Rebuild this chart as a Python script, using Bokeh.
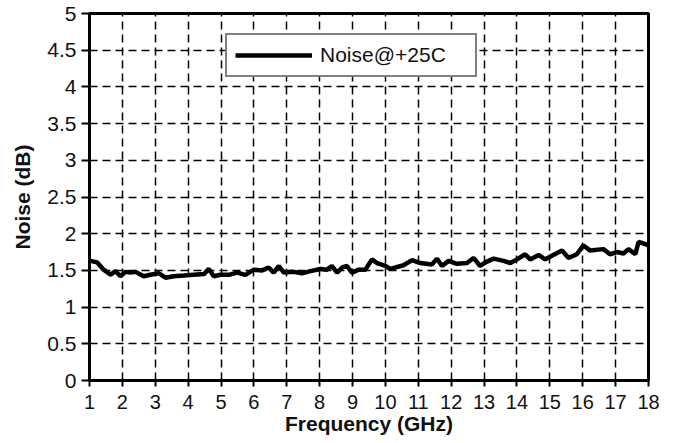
from bokeh.plotting import figure
from bokeh.models import Range1d, Legend, LegendItem, FixedTicker
from bokeh.embed import file_html
from bokeh.resources import INLINE

freq_ghz = [1.0, 1.03, 1.23, 1.43, 1.64, 1.79, 1.94, 2.09, 2.25, 2.40, 2.65, 2.85, 3.11, 3.31,
            3.56, 3.87, 4.17, 4.48, 4.63, 4.78, 4.98, 5.24, 5.49, 5.74, 6.00, 6.25, 6.45,
            6.60, 6.76, 6.91, 7.21, 7.46, 7.72, 8.02, 8.22, 8.37, 8.53, 8.68, 8.83, 8.98,
            9.19, 9.39, 9.59, 9.74, 10.0, 10.15, 10.55, 10.81, 11.06, 11.41, 11.57, 11.72,
            11.92, 12.17, 12.48, 12.68, 12.88, 13.04, 13.29, 13.59, 13.80, 14.0, 14.25,
            14.40, 14.66, 14.86, 15.06, 15.37, 15.57, 15.82, 16.02, 16.23, 16.63, 16.83,
            17.04, 17.24, 17.39, 17.60, 17.70, 17.95, 18.0]
noise_db = [1.63, 1.63, 1.61, 1.51, 1.44, 1.49, 1.42, 1.48, 1.47, 1.48, 1.42, 1.44, 1.46, 1.40,
            1.42, 1.43, 1.44, 1.45, 1.52, 1.42, 1.44, 1.44, 1.47, 1.44, 1.51, 1.50, 1.54,
            1.47, 1.56, 1.47, 1.48, 1.46, 1.49, 1.52, 1.51, 1.56, 1.47, 1.54, 1.56, 1.47,
            1.51, 1.51, 1.65, 1.60, 1.56, 1.52, 1.57, 1.64, 1.60, 1.58, 1.66, 1.56,
            1.63, 1.59, 1.60, 1.67, 1.56, 1.61, 1.66, 1.63, 1.60, 1.65, 1.72,
            1.65, 1.71, 1.65, 1.70, 1.77, 1.67, 1.72, 1.84, 1.77, 1.79, 1.72,
            1.75, 1.73, 1.79, 1.72, 1.89, 1.85, 1.84]

x_ticks = list(range(1, 19))
y_ticks = [0, 0.5, 1, 1.5, 2, 2.5, 3, 3.5, 4, 4.5, 5]
series_label = "Noise@+25C"
x_title = "Frequency (GHz)"
y_title = "Noise (dB)"

FONT = "Liberation Sans"

p = figure(width=676, height=443, output_backend="svg", toolbar_location=None,
           x_range=Range1d(1, 18), y_range=Range1d(0, 5),
           min_border_left=89, min_border_right=28, min_border_top=13, min_border_bottom=63)
p.background_fill_color = "white"
p.border_fill_color = "white"
p.outline_line_color = "black"
p.outline_line_width = 3

r = p.line(freq_ghz, noise_db, line_color="black", line_width=4.5)

p.xaxis.ticker = FixedTicker(ticks=x_ticks)
p.yaxis.ticker = FixedTicker(ticks=y_ticks)
p.yaxis.major_label_overrides = {0: "0", 1: "1", 2: "2", 3: "3", 4: "4", 5: "5"}

for ax in (p.xaxis[0], p.yaxis[0]):
    ax.axis_line_color = "black"
    ax.axis_line_width = 3
    ax.major_tick_line_color = "black"
    ax.major_tick_line_width = 2
    ax.minor_tick_line_color = None
    ax.major_tick_in = 0
    ax.major_label_text_font = FONT
    ax.major_label_text_color = "#111111"
    ax.axis_label_text_font = FONT
    ax.axis_label_text_font_style = "bold"
    ax.axis_label_text_font_size = "21px"
    ax.axis_label_text_color = "#111111"

p.xaxis.major_tick_out = 6
p.yaxis.major_tick_out = 8
p.xaxis.major_label_text_font_size = "20px"
p.yaxis.major_label_text_font_size = "21px"
p.xaxis.major_label_standoff = 8
p.yaxis.major_label_standoff = 5
p.xaxis.axis_label = x_title
p.yaxis.axis_label = y_title
p.xaxis.axis_label_standoff = 0
p.yaxis.axis_label_standoff = 10

p.xgrid.ticker = FixedTicker(ticks=x_ticks)
p.ygrid.ticker = FixedTicker(ticks=y_ticks)
for g in (p.xgrid[0], p.ygrid[0]):
    g.grid_line_color = "black"
    g.grid_line_width = 1.5
    g.grid_line_dash = "8 5"

legend = Legend(items=[LegendItem(label=series_label, renderers=[r])],
                location=(136, 303), padding=8, margin=0, spacing=0,
                glyph_width=77, glyph_height=24, label_height=24,
                label_standoff=8, label_width=147,
                label_text_font=FONT, label_text_font_size="21px",
                label_text_color="#111111",
                border_line_color="black", border_line_width=2,
                background_fill_color="white", background_fill_alpha=1)
p.add_layout(legend)

open("out.html", "w").write(file_html(p, INLINE))
